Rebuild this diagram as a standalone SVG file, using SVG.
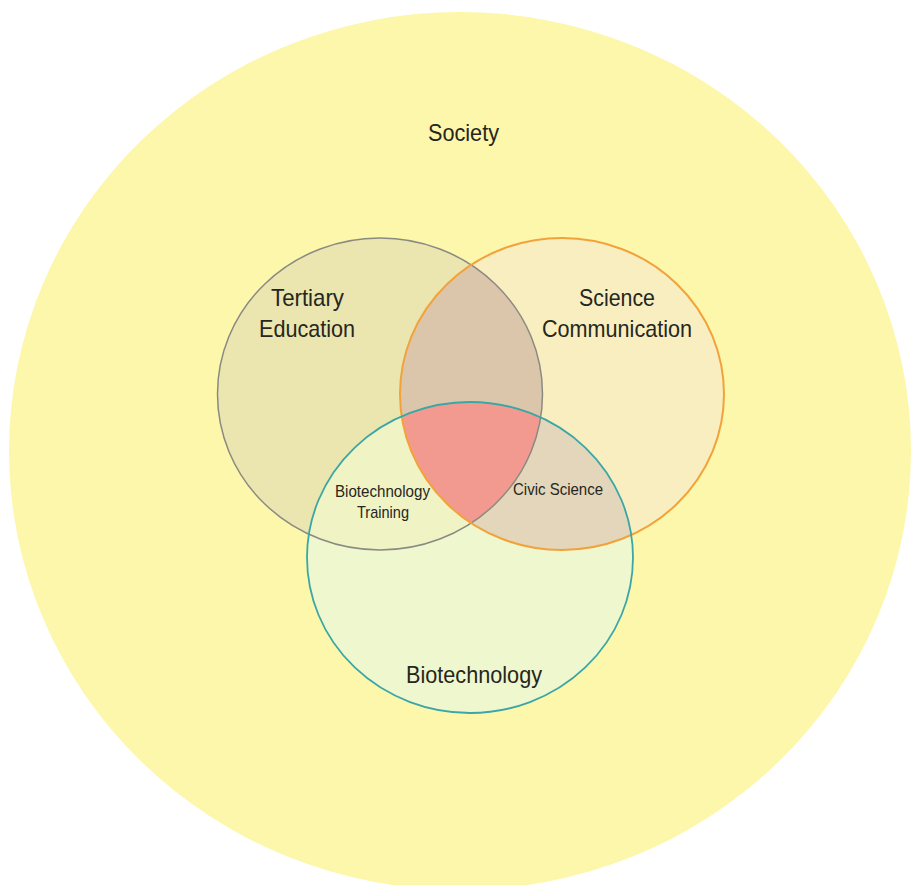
<svg xmlns="http://www.w3.org/2000/svg" width="912" height="885" viewBox="0 0 912 885">
  <style>
    .lbl { font-family: "Liberation Sans", Arial, sans-serif; fill: #26261e; text-anchor: middle; }
    .big { font-size: 24px; }
    .small { font-size: 17px; }
    .outline { fill: none; }
  </style>
  <defs>
    <clipPath id="clipT"><ellipse cx="380" cy="394" rx="162.5" ry="156"/></clipPath>
    <clipPath id="clipS"><ellipse cx="562" cy="394" rx="162" ry="156"/></clipPath>
  </defs>
  <rect width="912" height="885" fill="#ffffff"/>

  <g id="society">
    <ellipse cx="460" cy="451" rx="451" ry="439" fill="#fdf7ab"/>
    <text class="lbl big" x="463.5" y="141" textLength="71" lengthAdjust="spacingAndGlyphs">Society</text>
  </g>

  <g id="region-fills">
    <ellipse cx="380" cy="394" rx="162.5" ry="156" fill="#ebe5b0"/>
    <ellipse cx="562" cy="394" rx="162" ry="156" fill="#f9eec0"/>
    <ellipse cx="470" cy="557.5" rx="163" ry="155.5" fill="#eff7ce"/>
    <ellipse cx="562" cy="394" rx="162" ry="156" fill="#dcc6ab" clip-path="url(#clipT)"/>
    <ellipse cx="470" cy="557.5" rx="163" ry="155.5" fill="#f0f3c4" clip-path="url(#clipT)"/>
    <ellipse cx="470" cy="557.5" rx="163" ry="155.5" fill="#e3d6ba" clip-path="url(#clipS)"/>
    <g clip-path="url(#clipT)">
      <ellipse cx="470" cy="557.5" rx="163" ry="155.5" fill="#f39a90" clip-path="url(#clipS)"/>
    </g>
  </g>

  <g id="connectors"/>

  <g id="tertiary-education">
    <ellipse class="outline" cx="380" cy="394" rx="162.5" ry="156" stroke="#8a8a82" stroke-width="1.5"/>
    <text class="lbl big" x="307.5" y="306" textLength="73" lengthAdjust="spacingAndGlyphs">Tertiary</text>
    <text class="lbl big" x="307" y="337" textLength="96" lengthAdjust="spacingAndGlyphs">Education</text>
  </g>

  <g id="science-communication">
    <ellipse class="outline" cx="562" cy="394" rx="162" ry="156" stroke="#f2a23a" stroke-width="2"/>
    <text class="lbl big" x="617" y="306" textLength="76" lengthAdjust="spacingAndGlyphs">Science</text>
    <text class="lbl big" x="617" y="337" textLength="150" lengthAdjust="spacingAndGlyphs">Communication</text>
  </g>

  <g id="biotechnology">
    <ellipse class="outline" cx="470" cy="557.5" rx="163" ry="155.5" stroke="#3aa6a6" stroke-width="1.8"/>
    <text class="lbl big" x="474" y="683" textLength="136" lengthAdjust="spacingAndGlyphs">Biotechnology</text>
  </g>

  <g id="biotechnology-training">
    <text class="lbl small" x="382.5" y="497" textLength="95" lengthAdjust="spacingAndGlyphs">Biotechnology</text>
    <text class="lbl small" x="383" y="518" textLength="52" lengthAdjust="spacingAndGlyphs">Training</text>
  </g>

  <g id="civic-science">
    <text class="lbl small" x="558" y="495" textLength="90" lengthAdjust="spacingAndGlyphs">Civic Science</text>
  </g>
</svg>
